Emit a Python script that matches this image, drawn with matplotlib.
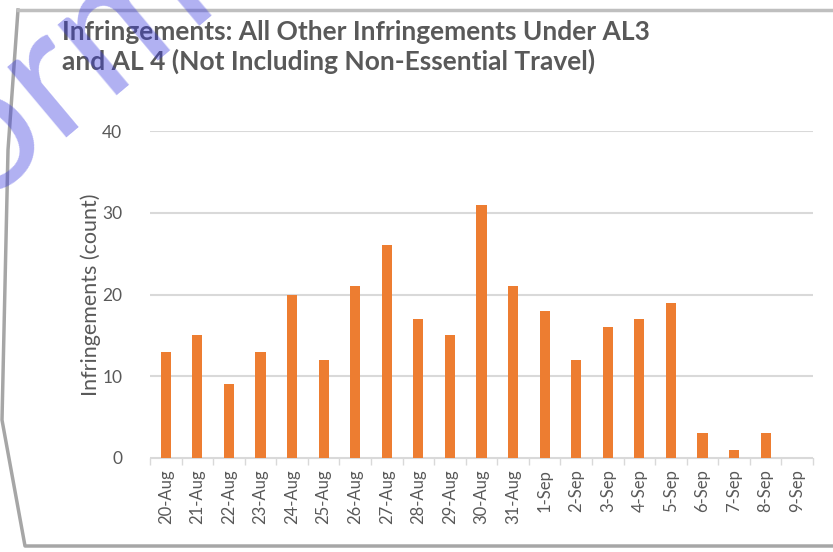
import numpy as np
import matplotlib.pyplot as plt
from matplotlib.lines import Line2D

dates = ["20-Aug", "21-Aug", "22-Aug", "23-Aug", "24-Aug", "25-Aug", "26-Aug",
         "27-Aug", "28-Aug", "29-Aug", "30-Aug", "31-Aug", "1-Sep", "2-Sep",
         "3-Sep", "4-Sep", "5-Sep", "6-Sep", "7-Sep", "8-Sep", "9-Sep"]
counts = [13, 15, 9, 13, 20, 12, 21, 26, 17, 15, 31, 21, 18, 12, 16, 17, 19, 3, 1, 3, 0]
yticks = [0, 10, 20, 30, 40]

title = "Infringements: All Other Infringements Under AL3\nand AL 4 (Not Including Non-Essential Travel)"
ylabel = "Infringements (count)"
watermark = "Informed"

plt.rcParams["font.family"] = ["Lato", "DejaVu Sans"]
grey = "#595959"

W, H = 833, 552
fig = plt.figure(figsize=(W / 100, H / 100), dpi=100)
ax = fig.add_axes([150 / W, 1 - 458 / H, (813 - 150) / W, (458 - 131) / H])

x = np.arange(len(dates))
ax.bar(x, counts, width=0.32, color="#ED7D31", zorder=3)

ax.set_xlim(-0.5, len(dates) - 0.5)
ax.set_ylim(0, 40)
ax.set_yticks(yticks)
ax.set_xticks(x)
ax.set_xticklabels(dates, rotation=90, fontsize=12, color=grey)
ax.set_xticks(np.arange(-0.5, len(dates), 1), minor=True)
ax.tick_params(axis="x", which="major", length=0, pad=8)
ax.tick_params(axis="x", which="minor", length=5, color="#d9d9d9", width=1)
ax.tick_params(axis="y", length=0, labelsize=12.5, labelcolor=grey, pad=20)
ax.grid(axis="y", color="#d9d9d9", linewidth=1.5, zorder=0)
for s in ["top", "right", "left"]:
    ax.spines[s].set_visible(False)
ax.spines["bottom"].set_color("#d9d9d9")
ax.set_ylabel(ylabel, fontsize=15.5, color=grey, labelpad=1)

fig.text(62 / W, 1 - 20 / H, title, ha="left", va="top", fontsize=19,
         fontweight="bold", color=grey, linespacing=1.2)

# chart border (scanned, slightly skewed)
border = [(18, 10), (8, 150), (2, 420), (25, 546), (833, 546)]
bx = [p[0] / W for p in border]
by = [1 - p[1] / H for p in border]
fig.add_artist(Line2D(bx, by, color="#a6a6a6", linewidth=2.5))
fig.add_artist(Line2D([18 / W, 1], [1 - 10 / H, 1 - 10 / H], color="#bfbfbf", linewidth=2.5))

# watermark: place so the "o" sits at the left edge
ang = 40
tmp = fig.text(0, 0, watermark[:3], fontsize=130)
fig.canvas.draw()
w = tmp.get_window_extent().width
tmp.remove()
ox = -25 - w * np.cos(np.radians(ang))
oy = 200 + w * np.sin(np.radians(ang))
fig.text(ox / W, 1 - oy / H, watermark, rotation=ang, rotation_mode="anchor",
         fontsize=130, color="#3a3ae0", alpha=0.4, ha="left", va="baseline")

fig.savefig("out.png", dpi=100)
